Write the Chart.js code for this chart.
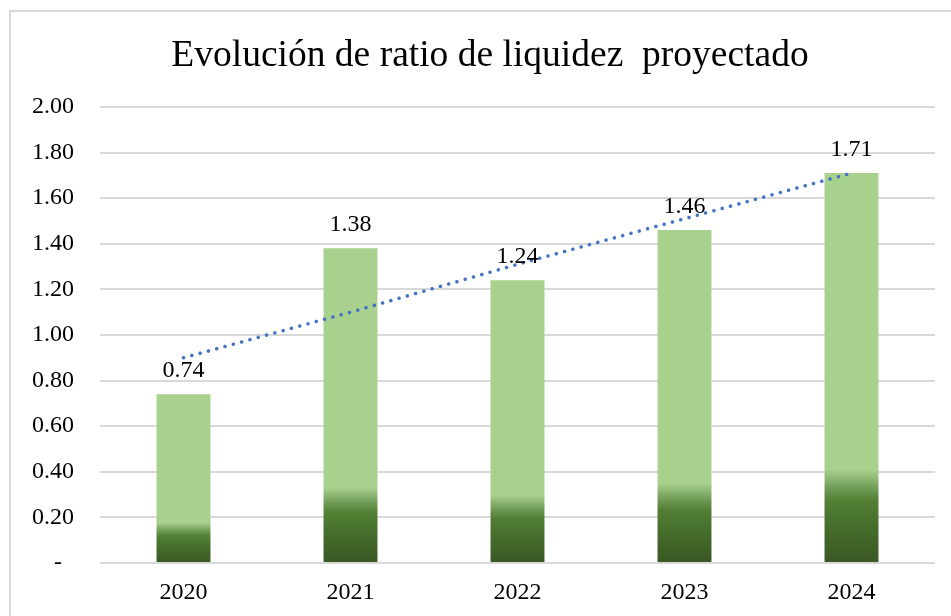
<!DOCTYPE html>
<html lang="es">
<head>
<meta charset="utf-8">
<title>Evolución de ratio de liquidez proyectado</title>
<script src="https://cdn.jsdelivr.net/npm/chart.js@4.4.1/dist/chart.umd.min.js"></script>
<style>
    html, body { margin: 0; padding: 0; background: #ffffff; }
    #wrap { position: relative; width: 951px; height: 616px; overflow: hidden; }
    #frame {
        position: absolute; left: 9px; top: 10px; width: 1000px; height: 700px;
        border: 2px solid #d9d9d9; box-sizing: border-box;
    }
    #ratioChart { position: absolute; left: 0; top: 0; }
</style>
</head>
<body>
<div id="wrap">
    <div id="frame"></div>
    <canvas id="ratioChart" width="951" height="616"></canvas>
</div>
<script>
// Datos del gráfico
const years = ['2020', '2021', '2022', '2023', '2024'];
const ratioValues = [0.74, 1.38, 1.24, 1.46, 1.71];
// línea de tendencia
const trendValues = [0.90, 1.10, 1.31, 1.51, 1.71];
const yTicks = [0, 0.2, 0.4, 0.6, 0.8, 1.0, 1.2, 1.4, 1.6, 1.8, 2.0];

const titleText = 'Evolución de ratio de liquidez  proyectado';
const serif = "'Liberation Serif', 'Times New Roman', serif";
const lightGreen = '#a9d18e';

// Degradado verde oscuro en la parte baja de cada barra
function barGradient(ctx) {
    const chart = ctx.chart;
    if (!chart.chartArea || ctx.raw === undefined) return lightGreen;
    const y = chart.scales.y;
    const top = y.getPixelForValue(ctx.raw);
    const base = y.getPixelForValue(0);
    const g = chart.ctx.createLinearGradient(0, base, 0, top);
    g.addColorStop(0, '#3a5723');
    g.addColorStop(0.1, '#466f2d');
    g.addColorStop(0.16, '#538034');
    g.addColorStop(0.19, '#6e9a55');
    g.addColorStop(0.24, lightGreen);
    g.addColorStop(1, lightGreen);
    return g;
}

// Título (dibujado a mano para poder centrarlo como en el original)
const chartTitle = {
    id: 'chartTitle',
    afterDraw(chart) {
        const c = chart.ctx;
        c.save();
        c.font = '37.5px ' + serif;
        c.fillStyle = '#000000';
        c.textAlign = 'center';
        c.textBaseline = 'alphabetic';
        c.fillText(titleText, 490, 66);
        c.restore();
    }
};

// Etiquetas de valores encima de las barras
const valueLabels = {
    id: 'valueLabels',
    afterDatasetsDraw(chart) {
        const meta = chart.getDatasetMeta(1);
        const c = chart.ctx;
        c.save();
        c.font = '24px ' + serif;
        c.fillStyle = '#000000';
        c.textAlign = 'center';
        c.textBaseline = 'alphabetic';
        meta.data.forEach((bar, i) => {
            c.fillText(ratioValues[i].toFixed(2), bar.x, bar.y - 17);
        });
        c.restore();
    }
};

const chart = new Chart(document.getElementById('ratioChart'), {
    data: {
        labels: years,
        datasets: [
            {
                type: 'line',
                label: 'Tendencia',
                data: trendValues,
                borderColor: '#4472c4',
                borderWidth: 3.5,
                borderDash: [0.1, 8.5],
                borderCapStyle: 'round',
                pointRadius: 0,
                tension: 0,
                fill: false,
                order: 0
            },
            {
                type: 'bar',
                label: 'Ratio de liquidez',
                data: ratioValues,
                backgroundColor: barGradient,
                borderWidth: 0,
                barPercentage: 0.323,
                categoryPercentage: 1,
                order: 1
            }
        ]
    },
    options: {
        responsive: false,
        animation: false,
        layout: { padding: { left: 0, right: 16, top: 107, bottom: 0 } },
        plugins: {
            legend: { display: false },
            tooltip: { enabled: false },
            title: { display: false }
        },
        scales: {
            x: {
                grid: { display: false, drawTicks: false },
                border: { display: false },
                ticks: {
                    color: '#000000',
                    font: { family: serif, size: 24 },
                    padding: 15
                },
                afterFit(scale) { scale.height = 53; }
            },
            y: {
                min: 0,
                max: 2,
                afterBuildTicks(scale) {
                    scale.ticks = yTicks.map(v => ({ value: v }));
                },
                grid: { color: '#d9d9d9', lineWidth: 2, drawTicks: false },
                border: { display: false },
                ticks: {
                    color: '#000000',
                    font: { family: serif, size: 24 },
                    padding: 26,
                    callback: v => v === 0 ? '-  ' : v.toFixed(2)
                },
                afterFit(scale) { scale.width = 100; }
            }
        }
    },
    plugins: [valueLabels, chartTitle]
});
</script>
</body>
</html>
